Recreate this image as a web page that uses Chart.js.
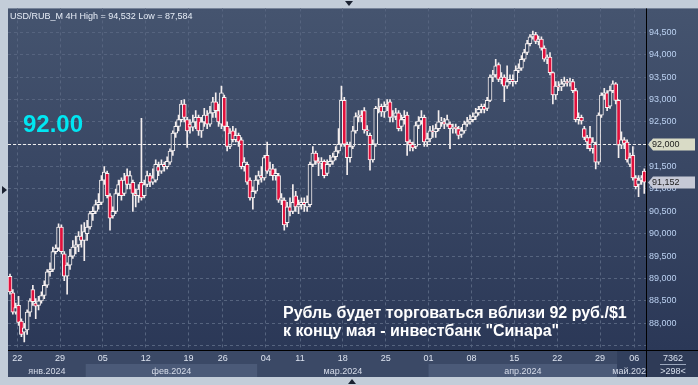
<!DOCTYPE html>
<html><head><meta charset="utf-8">
<script src="https://cdn.jsdelivr.net/npm/chart.js@4.4.1/dist/chart.umd.min.js"></script>
<style>html,body{margin:0;padding:0;background:#c3cdd9;overflow:hidden}canvas{display:block}</style>
</head><body>
<canvas id="c" width="698" height="385"></canvas>
<script>
// ---- data (4H candles, USD/RUB_M) ----
const openP = [
89.05,88.68,88.25,88.4,88.05,87.8,87.85,88.25,88.75,88.45,
88.4,88.5,88.62,88.85,89.15,89.2,89.6,89.68,90.15,89.55,
89.05,89.3,89.5,89.7,89.75,89.95,89.85,90.0,90.15,90.45,
90.5,90.65,90.7,91.2,91.35,90.85,90.4,90.5,90.9,91.2,
90.9,91.3,91.1,91.15,90.9,90.85,91.15,90.85,91.1,91.3,
91.15,91.2,91.5,91.4,91.55,91.5,91.6,91.85,92.25,92.4,
92.55,92.9,92.55,92.45,92.38,92.5,92.6,92.3,92.5,92.65,
92.45,92.7,92.95,92.75,92.45,93.05,92.4,91.95,92.3,92.1,
92.2,92.1,91.5,91.55,91.2,90.8,90.95,91.2,91.3,91.25,
91.75,91.4,91.45,91.3,91.3,90.75,90.75,90.25,90.6,90.5,
90.85,90.6,90.65,90.7,90.6,90.65,91.55,91.8,91.62,91.58,
91.62,91.35,91.55,91.62,91.72,91.85,92.0,92.98,92.0,91.7,
91.95,92.3,92.62,92.65,92.75,92.32,92.2,91.65,92.0,92.8,
92.85,92.72,92.85,92.95,92.6,92.62,92.7,92.4,92.55,92.65,
92.05,92.0,91.95,92.42,92.52,92.6,92.05,92.12,92.3,92.28,
92.35,92.5,92.5,92.45,92.45,92.35,92.38,92.35,92.22,92.3,
92.45,92.5,92.55,92.62,92.7,92.78,92.85,92.8,92.98,93.5,
93.55,93.78,93.45,93.5,93.3,93.4,93.45,93.4,93.65,93.7,
93.9,94.05,94.25,94.4,94.45,94.3,94.35,94.15,93.9,93.95,
93.6,93.1,93.3,93.28,93.35,93.4,93.38,93.4,93.2,92.55,
92.6,92.35,92.15,92.15,91.9,92.0,91.6,92.65,93.1,93.15,
92.85,93.2,93.35,92.98,91.98,92.1,92.05,91.55,91.75,91.25,
91.1,91.2,91.4];
const closeP = [
88.7,88.25,88.35,88.02,87.75,87.9,88.25,88.5,88.48,88.38,
88.5,88.62,88.85,89.15,89.2,89.6,89.68,90.15,89.6,89.05,
89.3,89.5,89.7,89.75,89.95,89.85,90.05,90.15,90.45,90.5,
90.65,90.7,91.2,91.38,90.85,90.35,90.5,90.9,91.1,90.85,
91.2,91.1,91.3,90.9,90.85,91.0,90.8,91.1,91.3,91.15,
91.25,91.55,91.4,91.55,91.5,91.62,91.85,92.25,92.4,92.55,
92.9,92.6,92.3,92.38,92.5,92.6,92.3,92.5,92.65,92.45,
92.7,92.95,92.75,92.5,93.15,92.4,91.95,92.25,92.1,92.2,
92.05,91.5,91.6,91.15,90.8,90.95,91.2,91.3,91.25,91.7,
91.4,91.45,91.3,91.35,90.75,90.8,90.2,90.6,90.5,90.7,
90.6,90.65,90.7,90.65,90.7,91.55,91.8,91.62,91.58,91.6,
91.3,91.55,91.62,91.72,91.85,92.0,92.98,92.0,91.7,91.95,
92.3,92.62,92.65,92.6,92.32,92.3,91.65,92.0,92.8,92.82,
92.72,92.85,92.9,92.6,92.62,92.7,92.35,92.55,92.6,92.05,
91.98,91.92,92.42,92.52,92.6,92.05,92.12,92.3,92.28,92.35,
92.5,92.52,92.45,92.55,92.35,92.38,92.35,92.2,92.3,92.45,
92.5,92.55,92.62,92.7,92.78,92.85,92.78,92.98,93.5,93.55,
93.75,93.45,93.5,93.3,93.4,93.45,93.4,93.65,93.7,93.9,
94.05,94.25,94.4,94.45,94.3,94.35,94.15,93.9,93.95,93.6,
93.1,93.3,93.28,93.35,93.4,93.38,93.4,93.2,92.55,92.6,
92.52,92.15,92.05,91.9,92.05,91.6,92.65,93.1,93.15,92.82,
93.2,93.35,92.98,91.98,92.1,92.02,91.65,91.7,91.25,91.05,
91.2,91.25,91.152];
const highP = [
89.1,88.75,88.45,88.6,88.1,88.0,88.3,88.55,88.85,88.55,
88.6,88.7,88.95,89.2,89.35,89.7,89.75,90.22,90.2,89.6,
89.35,89.65,89.85,89.95,90.05,90.2,90.25,90.3,90.5,90.6,
90.75,90.9,91.3,91.5,91.4,90.9,90.6,91.0,91.2,91.25,
91.35,91.45,91.4,91.2,91.0,91.1,92.58,91.2,91.4,91.35,
91.45,91.65,91.6,91.65,91.6,91.72,91.9,92.3,92.5,92.65,
92.98,93.0,92.6,92.55,92.65,92.75,92.65,92.6,92.8,92.75,
92.85,93.05,93.15,92.9,93.3,93.1,92.5,92.35,92.4,92.35,
92.25,92.15,91.7,91.6,91.25,91.05,91.3,91.4,91.5,91.75,
92.05,91.6,91.55,91.45,91.35,90.9,90.8,90.7,90.8,91.1,
90.95,90.75,90.8,90.8,90.85,91.6,91.95,91.85,91.7,91.7,
91.65,91.65,91.75,91.8,91.95,92.35,93.3,93.05,92.05,92.05,
92.4,92.7,92.75,92.75,92.82,92.42,92.25,92.1,92.85,93.02,
92.9,92.95,93.0,93.0,92.75,92.8,92.75,92.65,92.75,92.72,
92.1,92.05,92.5,92.62,92.75,92.65,92.25,92.4,92.42,92.45,
92.75,92.6,92.58,92.65,92.5,92.45,92.45,92.4,92.38,92.52,
92.6,92.65,92.7,92.8,92.85,92.9,92.9,93.05,93.55,93.65,
93.9,93.82,93.6,93.55,93.75,93.55,93.55,93.75,93.8,93.98,
94.12,94.32,94.45,94.53,94.5,94.42,94.4,94.2,94.0,94.05,
93.62,93.4,93.4,93.45,93.5,93.45,93.48,93.45,93.25,92.7,
92.65,92.4,92.2,92.4,92.15,92.05,92.7,93.15,93.25,93.2,
93.3,93.42,93.38,93.0,92.28,92.15,92.1,91.8,91.95,91.3,
91.3,91.3,91.45];
const lowP = [
88.65,88.2,88.2,87.95,87.7,87.58,87.75,88.15,88.4,88.1,
88.3,88.45,88.55,88.8,89.05,89.15,89.55,89.62,89.55,88.95,
88.65,89.2,89.45,89.55,89.6,89.7,89.4,89.85,90.1,90.3,
90.45,90.55,90.65,91.1,90.8,90.08,90.35,90.45,90.85,90.75,
90.85,91.0,91.0,90.5,90.6,90.7,90.75,90.8,91.05,91.05,
91.1,91.15,91.3,91.35,91.4,91.45,91.55,91.75,92.15,92.3,
92.5,92.5,91.93,92.25,92.3,92.35,92.2,92.15,92.4,92.35,
92.4,92.6,92.6,92.4,92.35,92.3,91.85,91.9,92.05,92.05,
91.95,91.45,91.4,91.1,90.75,90.55,90.9,91.1,91.15,91.2,
91.35,91.3,91.2,91.2,90.7,90.65,90.08,90.15,90.4,90.45,
90.5,90.45,90.55,90.5,90.5,90.6,91.5,91.55,91.3,91.45,
91.25,91.3,91.5,91.55,91.65,91.8,91.95,91.95,91.32,91.6,
91.9,92.25,92.5,92.5,92.25,92.2,91.42,91.6,91.95,92.7,
92.62,92.6,92.75,92.5,92.5,92.55,92.3,92.3,92.45,91.75,
91.85,91.85,91.9,92.35,92.45,91.95,91.95,92.05,92.15,92.15,
92.3,92.4,92.35,92.4,91.9,92.25,92.25,92.12,92.15,92.25,
92.4,92.45,92.5,92.55,92.65,92.7,92.7,92.75,92.95,93.4,
93.5,93.4,93.35,92.95,93.25,93.35,93.3,93.35,93.6,93.65,
93.85,94.0,94.2,94.35,94.25,94.22,94.1,93.85,93.8,93.55,
92.9,93.0,93.2,93.2,93.3,93.3,93.3,93.15,92.5,92.45,
92.45,92.1,91.9,91.85,91.8,91.45,91.55,92.6,93.0,92.75,
92.8,93.15,92.9,91.7,91.9,91.9,91.6,91.5,91.2,91.0,
90.83,91.1,90.9];

// week ticks (candle-index positions of week starts) and their labels
const weekTickPos = [2.5,17.5,32.5,47.5,62.5,74.5,89.5,101.5,116.5,131.5,146.5,161.5,176.5,191.5,206.5,218.5];
const weekTickLabels = ['22','29','05','12','19','26','04','11','18','25','01','08','15','22','29','06'];
// month boundaries (candle-index positions) and names
const monthStartPos = [-0.7,26.5,86.5,146.5,212.5];
const monthLabels = ['янв.2024','фев.2024','мар.2024','апр.2024','май.2024'];
// price axis ticks
const priceTicks = [87.5,88,88.5,89,89.5,90,90.5,91,91.5,92,92.5,93,93.5,94,94.5];
const refLevel = 92.0;
const lastPrice = 91.152;
const titleText = 'USD/RUB_M 4H High = 94,532 Low = 87,584';
const bigLabel = '92.00';
const noteLines = ['Рубль будет торговаться вблизи 92 руб./$1', 'к концу мая - инвестбанк "Синара"'];
const cornerTop = '7362';
const cornerBottom = '>298<';

const X_MIN = -0.7, X_MAX = 222.6, Y_MIN = 87.402, Y_MAX = 95.036;
const FONT = '"Liberation Sans", Arial, sans-serif';
const fmt = v => v.toFixed(3).replace('.', ',');

const idx = openP.map((_, i) => i);

const decor = {
  id: 'decor',
  beforeDraw(chart) {
    const {ctx, chartArea: a, scales: {x}} = chart;
    const W = chart.width;
    ctx.save();
    ctx.fillStyle = '#c3cdd9';
    ctx.fillRect(0, 0, W, chart.height);
    const g = ctx.createLinearGradient(0, a.top, 0, a.bottom);
    g.addColorStop(0, '#45546f');
    g.addColorStop(1, '#2b3857');
    ctx.fillStyle = g;
    ctx.fillRect(a.left, a.top, W - a.left, a.bottom - a.top);
    // date strip
    ctx.fillStyle = '#3b4966';
    ctx.fillRect(a.left, a.bottom, a.right - a.left, 27);
    for (let k = 0; k < monthStartPos.length; k++) {
      const x0 = Math.max(a.left, x.getPixelForValue(monthStartPos[k]));
      const x1 = k + 1 < monthStartPos.length ? x.getPixelForValue(monthStartPos[k + 1]) : a.right;
      if (k % 2 === 1) {
        ctx.fillStyle = '#4b5a78';
        ctx.fillRect(x0, a.bottom + 14, x1 - x0, 13);
      }
    }
    // current-month highlight
    const xm = x.getPixelForValue(monthStartPos[monthStartPos.length - 1]);
    ctx.fillStyle = '#313f5d';
    ctx.fillRect(xm, a.bottom + 1, a.right - xm, 26);
    // corner box
    ctx.fillStyle = '#2f3b57';
    ctx.fillRect(a.right, a.bottom, W - a.right, 27);
    ctx.restore();
  },
  afterDatasetsDraw(chart) {
    const {ctx, chartArea: a, scales: {y}} = chart;
    ctx.save();
    const yr = Math.round(y.getPixelForValue(refLevel)) + 0.5;
    ctx.strokeStyle = '#eeeeee';
    ctx.lineWidth = 1;
    ctx.setLineDash([3, 2]);
    ctx.beginPath(); ctx.moveTo(a.left, yr); ctx.lineTo(a.right, yr); ctx.stroke();
    ctx.restore();
  },
  afterDraw(chart) {
    const {ctx, chartArea: a, scales: {x, y}} = chart;
    const W = chart.width;
    ctx.save();
    // separators
    ctx.strokeStyle = '#000';
    ctx.lineWidth = 1;
    ctx.beginPath(); ctx.moveTo(a.right + 0.5, a.top); ctx.lineTo(a.right + 0.5, a.bottom + 27); ctx.stroke();
    ctx.beginPath(); ctx.moveTo(a.left, a.bottom + 0.5); ctx.lineTo(W, a.bottom + 0.5); ctx.stroke();
    // month labels
    ctx.save();
    ctx.beginPath(); ctx.rect(a.left, a.bottom, a.right - a.left, 27); ctx.clip();
    ctx.font = '9px ' + FONT;
    ctx.fillStyle = '#d6dcea';
    ctx.textAlign = 'center';
    ctx.textBaseline = 'alphabetic';
    for (let k = 0; k < monthStartPos.length; k++) {
      const x0 = Math.max(a.left, x.getPixelForValue(monthStartPos[k]));
      const x1 = k + 1 < monthStartPos.length ? x.getPixelForValue(monthStartPos[k + 1]) : a.right;
      ctx.fillText(monthLabels[k], (x0 + x1) / 2, a.bottom + 24);
    }
    ctx.restore();
    // price tags
    const tag = (v, fill) => {
      const c = Math.round(y.getPixelForValue(v)) + 0.5;
      const l = a.right + 2;
      ctx.beginPath();
      ctx.moveTo(l, c); ctx.lineTo(l + 5, c - 6); ctx.lineTo(W - 3, c - 6);
      ctx.lineTo(W - 3, c + 6); ctx.lineTo(l + 5, c + 6); ctx.closePath();
      ctx.fillStyle = fill; ctx.fill();
      ctx.fillStyle = '#1d1d1d';
      ctx.font = '9px ' + FONT;
      ctx.textAlign = 'left'; ctx.textBaseline = 'middle';
      ctx.fillText(fmt(v), l + 4, c + 0.5);
    };
    tag(refLevel, '#d9dbc6');
    tag(lastPrice, '#c6c9d6');
    // title
    ctx.font = '9px ' + FONT;
    ctx.fillStyle = '#e6ecf6';
    ctx.textAlign = 'left'; ctx.textBaseline = 'alphabetic';
    ctx.fillText(titleText, 10, 19);
    // big cyan label
    ctx.font = 'bold 24px ' + FONT;
    ctx.fillStyle = '#00e6f2';
    ctx.fillText(bigLabel, 23, 132);
    // note
    ctx.font = 'bold 16px ' + FONT;
    ctx.fillStyle = '#ffffff';
    ctx.fillText(noteLines[0], 283, 318);
    ctx.fillText(noteLines[1], 283, 336);
    // corner
    ctx.font = '9px ' + FONT;
    ctx.fillStyle = '#d8e0ee';
    ctx.textAlign = 'center';
    const cx = (a.right + W) / 2 + 1;
    ctx.fillText(cornerTop, cx, a.bottom + 11);
    ctx.fillText(cornerBottom, cx, a.bottom + 24);
    ctx.fillStyle = '#9aa6bc';
    ctx.fillRect(cx - 13, a.bottom + 14, 26, 1);
    // small frame arrows
    ctx.fillStyle = '#1b2231';
    ctx.beginPath(); ctx.moveTo(345, 1); ctx.lineTo(353, 1); ctx.lineTo(349, 6); ctx.closePath(); ctx.fill();
    ctx.beginPath(); ctx.moveTo(2, 186); ctx.lineTo(7, 190); ctx.lineTo(2, 194); ctx.closePath(); ctx.fill();
    ctx.beginPath(); ctx.moveTo(348, 384); ctx.lineTo(356, 384); ctx.lineTo(352, 379); ctx.closePath(); ctx.fill();
    ctx.restore();
  }
};

new Chart(document.getElementById('c'), {
  type: 'bar',
  data: {
    datasets: [
      {
        label: 'body',
        order: 0,
        grouped: false,
        data: idx.map(i => ({x: i, y: [openP[i], closeP[i]]})),
        barThickness: 4,
        borderWidth: 1,
        borderSkipped: false,
        borderColor: '#f8f2f2',
        backgroundColor: c => closeP[c.dataIndex] < openP[c.dataIndex] ? '#e0103c' : '#36445f'
      },
      {
        label: 'wick',
        order: 1,
        grouped: false,
        data: idx.map(i => ({x: i, y: [lowP[i], highP[i]]})),
        barThickness: 1,
        borderWidth: 0,
        backgroundColor: '#f4eeee'
      }
    ]
  },
  options: {
    responsive: false,
    animation: false,
    devicePixelRatio: 1,
    layout: {padding: {left: 8, top: 8, right: 0, bottom: 8}},
    plugins: {legend: {display: false}, tooltip: {enabled: false}},
    scales: {
      x: {
        type: 'linear', min: X_MIN, max: X_MAX, offset: false,
        afterFit: s => { s.height = 27; },
        afterBuildTicks: s => { s.ticks = weekTickPos.map(v => ({value: v})); },
        grid: {offset: false, color: '#56647f', lineWidth: 1, drawTicks: false},
        border: {display: false, dash: [3, 3]},
        ticks: {
          autoSkip: false, maxRotation: 0, padding: 3,
          color: '#dde4f0', font: {family: FONT, size: 9},
          callback: (v, i) => weekTickLabels[i]
        }
      },
      y: {
        position: 'right', min: Y_MIN, max: Y_MAX,
        afterFit: s => { s.width = 52; },
        afterBuildTicks: s => { s.ticks = priceTicks.map(v => ({value: v})); },
        grid: {color: '#56647f', lineWidth: 1, drawTicks: false},
        border: {display: false, dash: [3, 3]},
        ticks: {
          padding: 3, color: '#bcd2f2', font: {family: FONT, size: 9},
          callback: v => (v === 87.5 ? '' : fmt(v))
        }
      }
    }
  },
  plugins: [decor]
});
</script>
</body></html>
